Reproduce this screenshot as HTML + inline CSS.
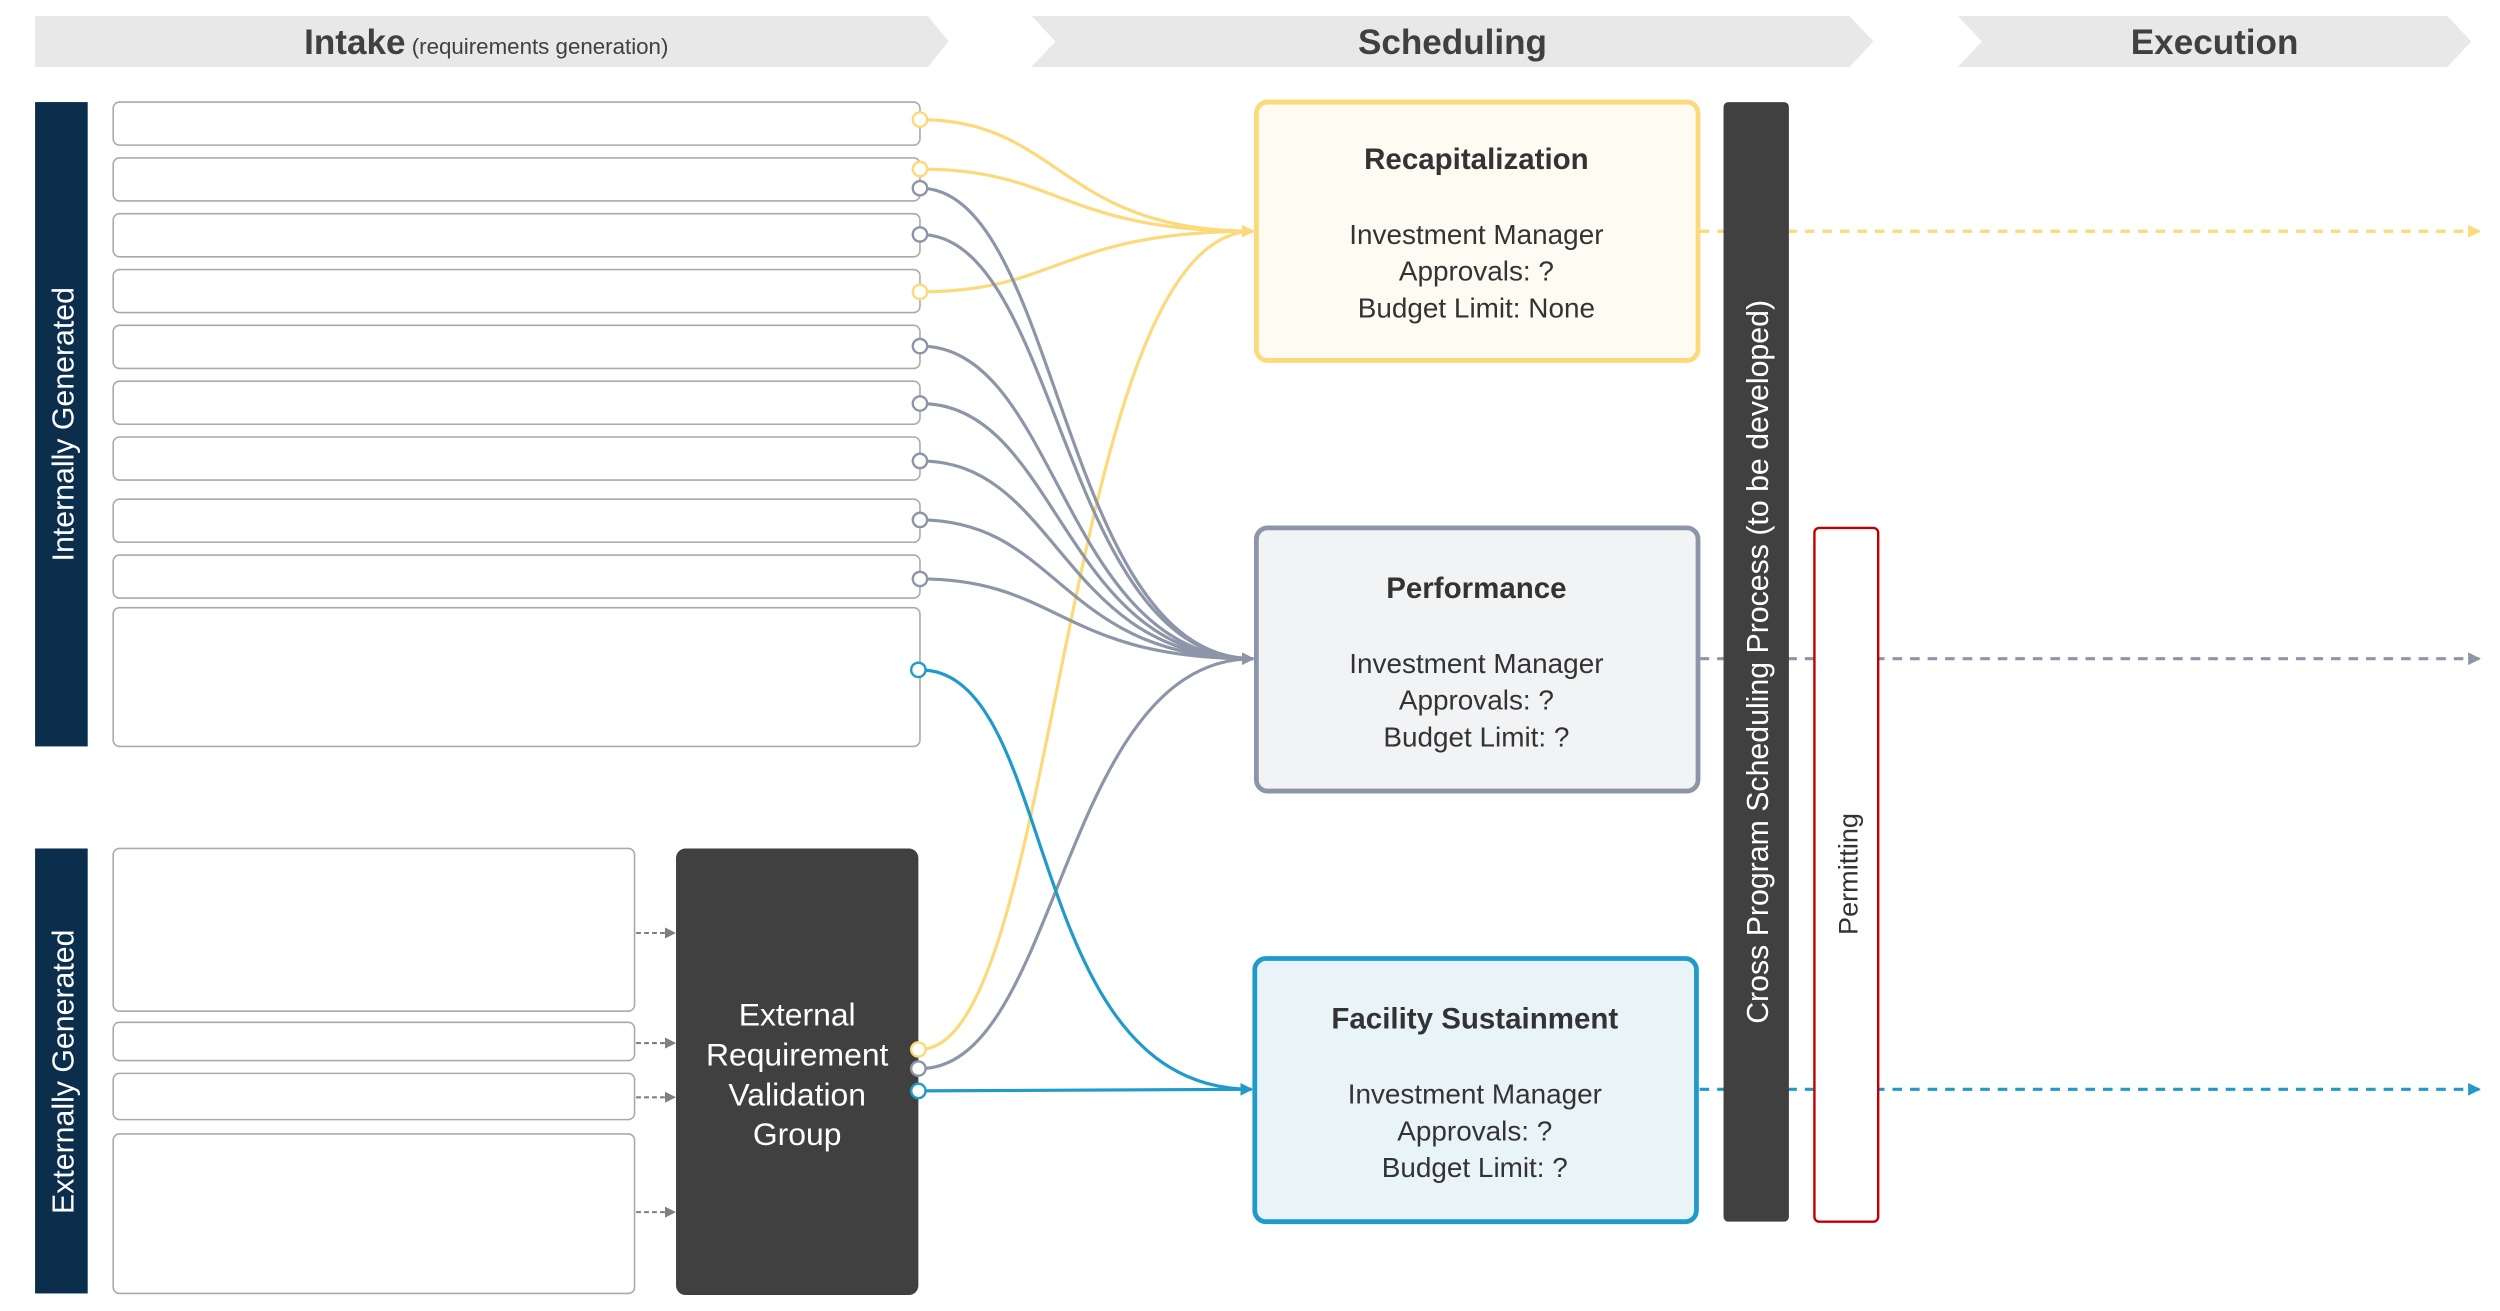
<!DOCTYPE html>
<html><head><meta charset="utf-8"><style>
html,body{margin:0;padding:0;background:#fff;}
svg{display:block;}
text{font-family:"Liberation Sans",sans-serif;}
</style></head><body>
<svg width="2500" height="1311" viewBox="0 0 1568 822" preserveAspectRatio="none" xmlns="http://www.w3.org/2000/svg">
<defs>
<marker id="ay" markerWidth="8" markerHeight="8" refX="7" refY="4" orient="auto" markerUnits="userSpaceOnUse"><path d="M0,0 L8,4 L0,8 z" fill="#fcd97a"/></marker>
<marker id="ag" markerWidth="8" markerHeight="8" refX="7" refY="4" orient="auto" markerUnits="userSpaceOnUse"><path d="M0,0 L8,4 L0,8 z" fill="#8c96a8"/></marker>
<marker id="ab" markerWidth="8" markerHeight="8" refX="7" refY="4" orient="auto" markerUnits="userSpaceOnUse"><path d="M0,0 L8,4 L0,8 z" fill="#1f9acb"/></marker>
<marker id="ak" markerWidth="7" markerHeight="7" refX="6" refY="3.5" orient="auto" markerUnits="userSpaceOnUse"><path d="M0,0 L7,3.5 L0,7 z" fill="#7f7f7f"/></marker>
</defs>
<path d="M22,10 L582,10 L595,26 L582,42 L22,42 z" fill="#e8e8e8"/>
<path d="M647,10 L1160,10 L1175,26 L1160,42 L647,42 L662,26 z" fill="#e8e8e8"/>
<path d="M1228,10 L1535,10 L1550,26 L1535,42 L1228,42 L1243,26 z" fill="#e8e8e8"/>
<text x="305" y="34" text-anchor="middle" fill="#404040"><tspan font-size="22" font-weight="bold">Intake</tspan><tspan font-size="14"> (requirements generation)</tspan></text>
<text x="911" y="34" text-anchor="middle" fill="#404040" font-size="22" font-weight="bold">Scheduling</text>
<text x="1389" y="34" text-anchor="middle" fill="#404040" font-size="22" font-weight="bold">Execution</text>
<rect x="22" y="64" width="33" height="404" fill="#0b2e4c"/>
<text transform="translate(46,266) rotate(-90)" text-anchor="middle" fill="#fff" font-size="19">Internally Generated</text>
<rect x="22" y="532" width="33" height="279" fill="#0b2e4c"/>
<text transform="translate(46,672) rotate(-90)" text-anchor="middle" fill="#fff" font-size="19">Externally Generated</text>
<g fill="#fff" stroke="#aaaaaa" stroke-width="1">
<rect x="71" y="64" width="506" height="27" rx="4"/>
<rect x="71" y="99" width="506" height="27" rx="4"/>
<rect x="71" y="134" width="506" height="27" rx="4"/>
<rect x="71" y="169" width="506" height="27" rx="4"/>
<rect x="71" y="204" width="506" height="27" rx="4"/>
<rect x="71" y="239" width="506" height="27" rx="4"/>
<rect x="71" y="274" width="506" height="27" rx="4"/>
<rect x="71" y="313" width="506" height="27" rx="4"/>
<rect x="71" y="348" width="506" height="27" rx="4"/>
<rect x="71" y="381" width="506" height="87" rx="4"/>
<rect x="71" y="532" width="327" height="102" rx="4"/>
<rect x="71" y="641" width="327" height="24" rx="4"/>
<rect x="71" y="673" width="327" height="29" rx="4"/>
<rect x="71" y="711" width="327" height="100" rx="4"/>
</g>
<g stroke="#7f7f7f" stroke-width="1.3" stroke-dasharray="3,2" marker-end="url(#ak)">
<line x1="399" y1="585" x2="423" y2="585"/>
<line x1="399" y1="654" x2="423" y2="654"/>
<line x1="399" y1="688" x2="423" y2="688"/>
<line x1="399" y1="760" x2="423" y2="760"/>
</g>
<rect x="424" y="532" width="152" height="280" rx="6" fill="#404040"/>
<g fill="#fff" font-size="20" text-anchor="middle">
<text x="500" y="643">External</text>
<text x="500" y="668">Requirement</text>
<text x="500" y="693">Validation</text>
<text x="500" y="718">Group</text>
</g>
<g fill="none" stroke-width="2">
<g stroke="#fcd97a">
<path d="M577,75 C665,75 665,145 786,145" marker-end="url(#ay)"/>
<path d="M577,106 C665,106 665,145 786,145"/>
<path d="M577,183 C665,183 665,145 786,145"/>
<path d="M577,658 C665,658 665,145 786,145"/>
</g>
<g stroke="#8c96a8">
<path d="M577,118 C665,118 665,413 786,413" marker-end="url(#ag)"/>
<path d="M577,147 C665,147 665,413 786,413"/>
<path d="M577,217 C665,217 665,413 786,413"/>
<path d="M577,253 C665,253 665,413 786,413"/>
<path d="M577,289 C665,289 665,413 786,413"/>
<path d="M577,326 C665,326 665,413 786,413"/>
<path d="M577,363 C665,363 665,413 786,413"/>
<path d="M577,670 C665,670 665,413 786,413"/>
</g>
<g stroke="#1f9acb">
<path d="M577,420 C665,420 640,683 785,683" marker-end="url(#ab)"/>
<path d="M577,684 L785,683"/>
</g>
</g>
<g fill="#fff" stroke-width="1.5">
<circle cx="577" cy="75" r="4.5" stroke="#fcd97a"/>
<circle cx="577" cy="106" r="4.5" stroke="#fcd97a"/>
<circle cx="577" cy="118" r="4.5" stroke="#8c96a8"/>
<circle cx="577" cy="147" r="4.5" stroke="#8c96a8"/>
<circle cx="577" cy="183" r="4.5" stroke="#fcd97a"/>
<circle cx="577" cy="217" r="4.5" stroke="#8c96a8"/>
<circle cx="577" cy="253" r="4.5" stroke="#8c96a8"/>
<circle cx="577" cy="289" r="4.5" stroke="#8c96a8"/>
<circle cx="577" cy="326" r="4.5" stroke="#8c96a8"/>
<circle cx="577" cy="363" r="4.5" stroke="#8c96a8"/>
<circle cx="576" cy="420" r="4.5" stroke="#1f9acb"/>
<circle cx="576" cy="658" r="4.5" stroke="#fcd97a"/>
<circle cx="576" cy="670" r="4.5" stroke="#8c96a8"/>
<circle cx="576" cy="684" r="4.5" stroke="#1f9acb"/>
</g>
<g stroke-width="2" stroke-dasharray="6,5">
<line x1="1066" y1="145" x2="1555" y2="145" stroke="#fcd97a" marker-end="url(#ay)"/>
<line x1="1066" y1="413" x2="1555" y2="413" stroke="#8c96a8" marker-end="url(#ag)"/>
<line x1="1066" y1="683" x2="1555" y2="683" stroke="#1f9acb" marker-end="url(#ab)"/>
</g>
<rect x="788" y="64" width="277" height="162" rx="7" fill="#fdfbf2" stroke="#fcd97a" stroke-width="3"/>
<rect x="788" y="331" width="277" height="165" rx="7" fill="#f2f3f5" stroke="#8c96a8" stroke-width="3"/>
<rect x="787" y="601" width="277" height="165" rx="7" fill="#e9f4f9" stroke="#1f9acb" stroke-width="3"/>
<g fill="#333" text-anchor="middle" font-size="17.5">
<text x="926" y="106" font-weight="bold" font-size="18.5">Recapitalization</text>
<text x="926" y="153">Investment Manager</text>
<text x="926" y="176">Approvals: ?</text>
<text x="926" y="199">Budget Limit: None</text>
<text x="926" y="375" font-weight="bold" font-size="18.5">Performance</text>
<text x="926" y="422">Investment Manager</text>
<text x="926" y="445">Approvals: ?</text>
<text x="926" y="468">Budget Limit: ?</text>
<text x="925" y="645" font-weight="bold" font-size="18.5">Facility Sustainment</text>
<text x="925" y="692">Investment Manager</text>
<text x="925" y="715">Approvals: ?</text>
<text x="925" y="738">Budget Limit: ?</text>
</g>
<rect x="1081" y="64" width="41" height="702" rx="3" fill="#404040"/>
<text transform="translate(1109,415) rotate(-90)" text-anchor="middle" fill="#fff" font-size="19">Cross Program Scheduling Process (to be developed)</text>
<rect x="1138" y="331" width="40" height="435" rx="3" fill="#fff" stroke="#c00000" stroke-width="1.5"/>
<text transform="translate(1165,548) rotate(-90)" text-anchor="middle" fill="#333" font-size="17">Permitting</text>
</svg>
</body></html>
